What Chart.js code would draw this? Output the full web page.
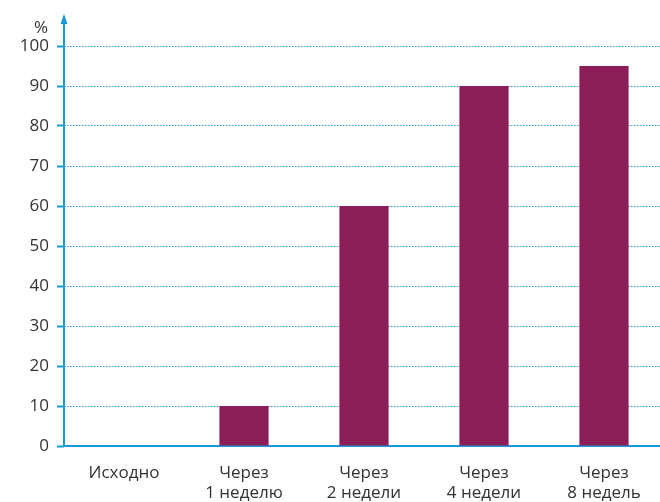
<!DOCTYPE html>
<html>
<head>
<meta charset="utf-8">
<script src="https://cdn.jsdelivr.net/npm/chart.js@4"></script>
<style>
  html, body { margin: 0; padding: 0; background: #fff; overflow: hidden; }
  #wrap { width: 660px; height: 502px; overflow: hidden; }
</style>
</head>
<body>
<div id="wrap"><canvas id="myChart" width="664" height="502"></canvas></div>
<script>
	// chart data
	const categories = [['Исходно'], ['Через', '1 неделю'], ['Через', '2 недели'], ['Через', '4 недели'], ['Через', '8 недель']];
	const values = [0, 10, 60, 90, 95];
	const yTicks = [0, 10, 20, 30, 40, 50, 60, 70, 80, 90, 100];

	const BLUE = '#1b9ad8';
	const BAR = '#8b1e56';
	const TEXT = '#333333';
	const FONT = { family: '"Open Sans", "Noto Sans", sans-serif', size: 17 };

	// arrow on the y axis and the "%" label
	const axisArrow = {
		id: 'axisArrow',
		afterDraw(chart) {
			const ctx = chart.ctx;
			const x = chart.scales.y.left + chart.scales.y.width;
			const top = chart.scales.y.getPixelForValue(100) - 32;
			ctx.save();
			ctx.strokeStyle = BLUE;
			ctx.fillStyle = BLUE;
			ctx.lineWidth = 2;
			ctx.beginPath();
			ctx.moveTo(x, chart.chartArea.bottom);
			ctx.lineTo(x, top + 6);
			ctx.stroke();
			ctx.beginPath();
			ctx.moveTo(x, top);
			ctx.lineTo(x - 3.5, top + 10);
			ctx.lineTo(x + 3.5, top + 10);
			ctx.closePath();
			ctx.fill();
			ctx.fillStyle = TEXT;
			ctx.font = FONT.size + 'px ' + FONT.family;
			ctx.textAlign = 'center';
			ctx.textBaseline = 'middle';
			ctx.fillText('%', 41, top + 14);
			ctx.restore();
		}
	};

	const config = {
		type: 'bar',
		data: {
			labels: categories,
			datasets: [{
				data: values,
				backgroundColor: BAR,
				borderWidth: 0,
				barPercentage: 0.41,
				categoryPercentage: 1
			}]
		},
		options: {
			responsive: false,
			animation: false,
			layout: { padding: { top: 46, right: 0, bottom: 0, left: 0 } },
			plugins: { legend: { display: false }, tooltip: { enabled: false } },
			scales: {
				x: {
					offset: true,
					grid: { display: false, drawTicks: false },
					border: { display: true, color: BLUE, width: 2 },
					ticks: { color: TEXT, font: FONT, padding: 17, maxRotation: 0 },
					afterFit(scale) { scale.height = 56; }
				},
				y: {
					min: 0,
					max: 100,
					afterBuildTicks(scale) { scale.ticks = yTicks.map(v => ({ value: v })); },
					grid: {
						color: ctx => ctx.tick && ctx.tick.value === 0 ? 'rgba(0,0,0,0)' : BLUE,
						lineWidth: 1,
						tickLength: 7,
						tickColor: BLUE,
						tickWidth: 2,
						tickBorderDash: []
					},
					border: { display: false, dash: [1.5, 1.5] },
					ticks: { color: TEXT, font: FONT, padding: 8 },
					afterFit(scale) { scale.width = 64; }
				}
			}
		},
		plugins: [axisArrow]
	};

	const myChart = new Chart(document.getElementById('myChart'), config);
</script>
</body>
</html>
